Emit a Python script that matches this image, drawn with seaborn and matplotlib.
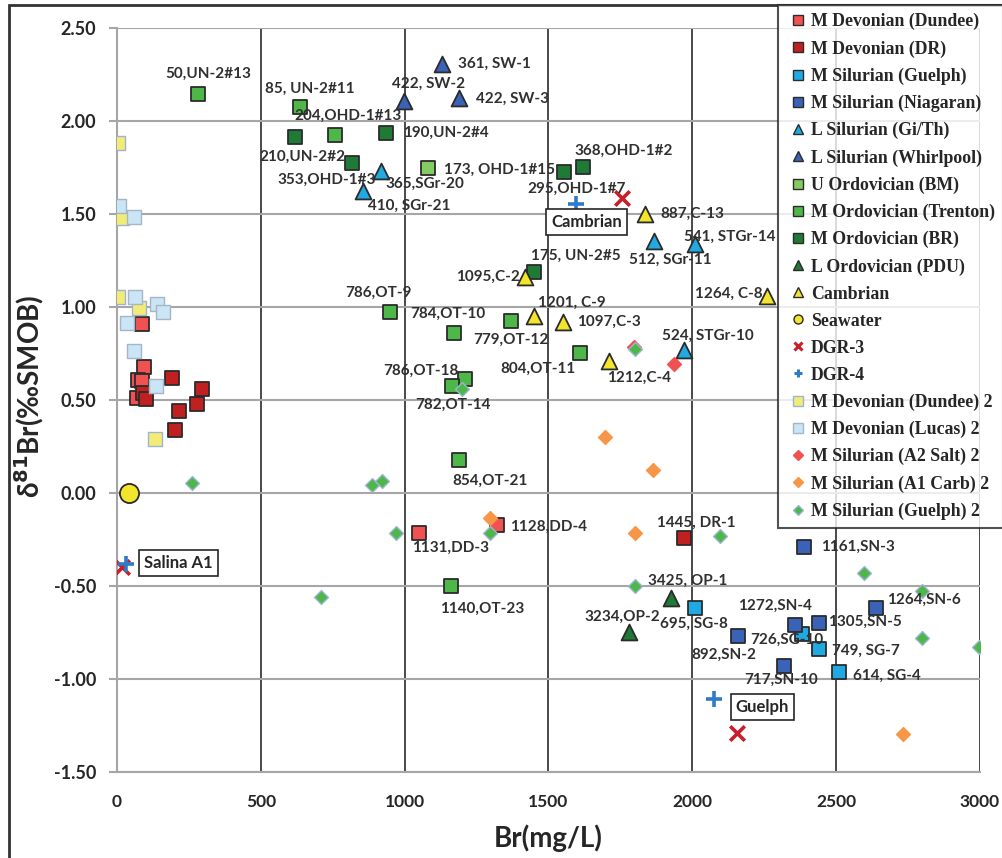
import matplotlib
matplotlib.use("Agg")
import matplotlib.pyplot as plt
import seaborn as sns
import pandas as pd
from matplotlib.lines import Line2D
from matplotlib.patches import Rectangle

# ---------------- data ----------------
dundee_x = [88, 93, 74, 87, 68, 1050, 1320]
dundee_y = [0.91, 0.676, 0.61, 0.60, 0.51, -0.215, -0.17]
dundee_lab = [None, None, None, None, None, "1131,DD-3", "1128,DD-4"]

dr_x = [190, 295, 277, 217, 202, 89, 101, 1970]
dr_y = [0.62, 0.56, 0.48, 0.44, 0.34, 0.54, 0.505, -0.24]
dr_lab = [None] * 7 + ["1445, DR-1"]

sguelph_x = [2010, 2381, 2439, 2509]
sguelph_y = [-0.617, -0.758, -0.84, -0.96]
sguelph_lab = ["695, SG-8", "726,SG-10", "749, SG-7", "614, SG-4"]

niag_x = [2387, 2637, 2439, 2358, 2159, 2320]
niag_y = [-0.29, -0.617, -0.70, -0.71, -0.77, -0.93]
niag_lab = ["1161,SN-3", "1264,SN-6", "1305,SN-5", "1272,SN-4", "892,SN-2", "717,SN-10"]

gith_x = [918, 855, 1868, 2009, 1970]
gith_y = [1.733, 1.624, 1.356, 1.34, 0.77]
gith_lab = ["365,SGr-20", "410, SGr-21", "512, SGr-11", "541, STGr-14", "524, STGr-10"]

whirl_x = [1129, 999, 1190]
whirl_y = [2.306, 2.109, 2.125]
whirl_lab = ["361, SW-1", "422, SW-2", "422, SW-3"]

bm_x = [1080]
bm_y = [1.745]
bm_lab = ["173, OHD-1#15"]

trenton_x = [283, 637, 758, 950, 1170, 1369, 1608, 1210, 1164, 1190, 1161]
trenton_y = [2.145, 2.077, 1.925, 0.975, 0.862, 0.925, 0.751, 0.613, 0.575, 0.177, -0.50]
trenton_lab = ["50,UN-2#13", "85, UN-2#11", "204,OHD-1#13", "786,OT-9", "784,OT-10",
               "779,OT-12", "804,OT-11", "786,OT-18", "782,OT-14", "854,OT-21", "1140,OT-23"]

br_x = [619, 936, 818, 1555, 1620, 1448]
br_y = [1.916, 1.934, 1.776, 1.727, 1.754, 1.19]
br_lab = ["210,UN-2#2", "190,UN-2#4", "353,OHD-1#3", "295,OHD-1#7", "368,OHD-1#2", "175, UN-2#5"]

pdu_x = [1927, 1779]
pdu_y = [-0.563, -0.746]
pdu_lab = ["3425, OP-1", "3234,OP-2"]

camb_x = [1834, 1419, 2260, 1448, 1549, 1709]
camb_y = [1.50, 1.163, 1.061, 0.952, 0.921, 0.71]
camb_lab = ["887,C-13", "1095,C-2", "1264, C-8", "1201, C-9", "1097,C-3", "1212,C-4"]

sea_x = [43]
sea_y = [0.0]

dgr3_x = [1755, 16, 2155]
dgr3_y = [1.584, -0.40, -1.288]

dgr4_x = [1597, 31, 2074]
dgr4_y = [1.554, -0.38, -1.108]

dundee2_x = [5, 19, 5, 78, 132]
dundee2_y = [1.883, 1.477, 1.055, 0.993, 0.29]

lucas2_x = [7, 59, 61, 138, 159, 36, 58, 135]
lucas2_y = [1.545, 1.482, 1.055, 1.016, 0.975, 0.912, 0.765, 0.575]

a2salt_x = [1935, 1798]
a2salt_y = [0.693, 0.787]

a1carb_x = [1697, 1862, 1297, 1799, 2732]
a1carb_y = [0.303, 0.124, -0.133, -0.217, -1.297]

guelph2_x = [262, 888, 921, 1199, 969, 1297, 710, 1799, 2097, 1799, 2598, 2797, 2797, 2996]
guelph2_y = [0.052, 0.041, 0.066, 0.557, -0.217, -0.213, -0.557, 0.774, -0.229, -0.50,
             -0.432, -0.525, -0.781, -0.826]

box_texts = ["Cambrian", "Salina A1", "Guelph"]
box_x = [1633, 214, 2243]
box_y = [1.457, -0.376, -1.149]

x_ticks = [0, 500, 1000, 1500, 2000, 2500, 3000]
y_ticks = [-1.5, -1.0, -0.5, 0.0, 0.5, 1.0, 1.5, 2.0, 2.5]

# ---------------- styles ----------------
DK = "#2b2b2b"
TXT = "#262626"
SANS = ["Lato", "DejaVu Sans"]
series = [
    ("M Devonian (Dundee)", dundee_x, dundee_y, dundee_lab, "s", "#F05252", DK, 110),
    ("M Devonian (DR)", dr_x, dr_y, dr_lab, "s", "#C0201F", DK, 110),
    ("M Silurian (Guelph)", sguelph_x, sguelph_y, sguelph_lab, "s", "#21A9E1", DK, 110),
    ("M Silurian (Niagaran)", niag_x, niag_y, niag_lab, "s", "#3A62B6", DK, 110),
    ("L Silurian (Gi/Th)", gith_x, gith_y, gith_lab, "^", "#21A9E1", DK, 130),
    ("L Silurian (Whirlpool)", whirl_x, whirl_y, whirl_lab, "^", "#3A62B6", DK, 130),
    ("U Ordovician (BM)", bm_x, bm_y, bm_lab, "s", "#84CC62", DK, 110),
    ("M Ordovician (Trenton)", trenton_x, trenton_y, trenton_lab, "s", "#4DB848", DK, 110),
    ("M Ordovician (BR)", br_x, br_y, br_lab, "s", "#1F7A36", DK, 110),
    ("L Ordovician (PDU)", pdu_x, pdu_y, pdu_lab, "^", "#1F7A36", DK, 130),
    ("Cambrian", camb_x, camb_y, camb_lab, "^", "#F2E52B", DK, 130),
    ("Seawater", sea_x, sea_y, None, "o", "#F2E52B", DK, 190),
    ("DGR-3", dgr3_x, dgr3_y, None, "x", "#C8202A", None, 110),
    ("DGR-4", dgr4_x, dgr4_y, None, "+", "#2F7BC8", None, 140),
    ("M Devonian (Dundee) 2", dundee2_x, dundee2_y, None, "s", "#F3EC74", "#9DB4D6", 110),
    ("M Devonian (Lucas) 2", lucas2_x, lucas2_y, None, "s", "#C9E5F6", "#A7B6C6", 110),
    ("M Silurian (A2 Salt) 2", a2salt_x, a2salt_y, None, "D", "#F05252", "#F05252", 50),
    ("M Silurian (A1 Carb) 2", a1carb_x, a1carb_y, None, "D", "#F79646", "#F79646", 50),
    ("M Silurian (Guelph) 2", guelph2_x, guelph2_y, None, "D", "#4DB848", "#9DB4D6", 50),
]

label_off = {  # label centre offset from its point, in pixels (right, up)
    "50,UN-2#13": (10, 20), "85, UN-2#11": (10, 18), "204,OHD-1#13": (13, 19),
    "210,UN-2#2": (7, -20), "190,UN-2#4": (60, 0), "353,OHD-1#3": (-26, -17),
    "365,SGr-20": (44, -13), "410, SGr-21": (46, -15), "173, OHD-1#15": (72, -1),
    "361, SW-1": (53, 0), "422, SW-2": (24, 17), "422, SW-3": (53, -1),
    "368,OHD-1#2": (41, 16), "295,OHD-1#7": (12, -17), "887,C-13": (48, 0),
    "541, STGr-14": (35, 7), "512, SGr-11": (16, -19), "175, UN-2#5": (42, 16),
    "1095,C-2": (-37, 0), "1264, C-8": (-38, 2), "786,OT-9": (-12, 19),
    "784,OT-10": (-6, 19), "779,OT-12": (0, -19), "1201, C-9": (38, 13),
    "1097,C-3": (46, 0), "804,OT-11": (-42, -15), "1212,C-4": (30, -17),
    "524, STGr-10": (24, 14), "786,OT-18": (-44, 8), "782,OT-14": (1, -19),
    "854,OT-21": (31, -21), "1131,DD-3": (31, -15), "1128,DD-4": (52, -2),
    "1140,OT-23": (31, -23), "1445, DR-1": (13, 15), "1161,SN-3": (54, 0),
    "3425, OP-1": (16, 17), "3234,OP-2": (-6, 15), "695, SG-8": (-1, -16),
    "1272,SN-4": (-20, 19), "1305,SN-5": (46, 1), "1264,SN-6": (48, 8),
    "726,SG-10": (-15, -6), "892,SN-2": (-14, -19), "749, SG-7": (47, -2),
    "717,SN-10": (-3, -14), "614, SG-4": (48, -4),
}

sns.set_theme(style="white")
plt.rcParams["font.family"] = SANS

W, H = 1003, 858
fig = plt.figure(figsize=(W / 100, H / 100), dpi=100)
ax = fig.add_axes([117 / W, 1 - 772 / H, (980 - 117) / W, (772 - 28) / H])

ax.set_xlim(0, 3000)
ax.set_ylim(-1.5, 2.5)

# grid
ax.set_yticks(y_ticks)
ax.set_xticks(x_ticks)
ax.yaxis.grid(True, color="#A6A6A6", lw=1.5, zorder=0)
ax.xaxis.grid(False)
ax.vlines(x_ticks[1:], -1.5, 2.5, colors="#3a3a3a", lw=1.3, zorder=0.5)
ax.set_axisbelow(True)
for sp in ["top", "right"]:
    ax.spines[sp].set_visible(False)
for sp in ["left", "bottom"]:
    ax.spines[sp].set_color("#A6A6A6")
    ax.spines[sp].set_linewidth(1.5)

ax.set_yticklabels([f"{v:.2f}" for v in y_ticks])
ax.tick_params(axis="y", length=6, width=1.5, color="#A6A6A6", pad=9, labelsize=13, left=True)
ax.tick_params(axis="x", length=0, pad=16, labelsize=12.5, bottom=True)
for t in ax.get_xticklabels() + ax.get_yticklabels():
    t.set_fontweight("bold")
    t.set_color(TXT)

# points
handles = []
for z, (name, xs, ys, labs, mk, fc, ec, s) in enumerate(series):
    if mk in ("x", "+"):
        sns.scatterplot(x=xs, y=ys, marker=mk, s=s, color=fc, linewidth=2.6, ax=ax,
                        legend=False, zorder=3 + z * 0.01)
        handles.append(Line2D([], [], ls="", marker=mk, color=fc, markersize=6, mew=2.2, label=name))
    else:
        lw = 1.3 if ec == DK else 1.0
        sns.scatterplot(x=xs, y=ys, marker=mk, s=s, color=fc, edgecolor=ec, linewidth=lw,
                        ax=ax, legend=False, zorder=3 + z * 0.01)
        ms = 6.5 if mk != "D" else 5
        handles.append(Line2D([], [], ls="", marker=mk, markerfacecolor=fc, markeredgecolor=ec,
                              mew=1.0, markersize=ms, label=name))
    if labs:
        for xv, yv, lb in zip(xs, ys, labs):
            if lb:
                dx, dy = label_off[lb]
                ax.annotate(lb, (xv, yv), xytext=(dx, dy), textcoords="offset pixels",
                            ha="center", va="center", fontsize=11, fontweight="bold",
                            color="#303030", zorder=5)

for t, xv, yv in zip(box_texts, box_x, box_y):
    ax.text(xv, yv, t, ha="center", va="center", fontsize=12, fontweight="bold",
            color=TXT, zorder=6,
            bbox=dict(boxstyle="square,pad=0.3", fc="white", ec=TXT, lw=1.2))

ax.set_xlabel("Br(mg/L)", fontsize=20, fontweight="bold", color=TXT)
ax.xaxis.set_label_coords(0.5, -(838 - 772) / 744)
ax.xaxis.label.set_va("center")
ax.set_ylabel(r"δ$^{\mathbf{81}}$Br(‰SMOB)", fontsize=20, fontweight="bold", color=TXT)
ax.yaxis.set_label_coords((46 - 117) / 863, (772 - 396) / 744)

leg = fig.legend(handles=handles, loc="upper left", bbox_to_anchor=(778 / W, 1 - 5 / H),
                 borderaxespad=0, frameon=True, fancybox=False, edgecolor=TXT,
                 prop={"family": "Liberation Serif", "weight": "bold", "size": 12.8},
                 handlelength=1.3, handletextpad=0.1, labelspacing=0.56, borderpad=0.45)
leg.get_frame().set_linewidth(1.5)
leg.set_zorder(10)
for t in leg.get_texts():
    t.set_color(TXT)

fig.add_artist(Rectangle((9 / W, -0.05), 1.1, 1 - 5 / H + 0.05, transform=fig.transFigure,
                         fill=False, ec="#333333", lw=2, clip_on=False, zorder=0))

fig.savefig("out.png", dpi=100)
